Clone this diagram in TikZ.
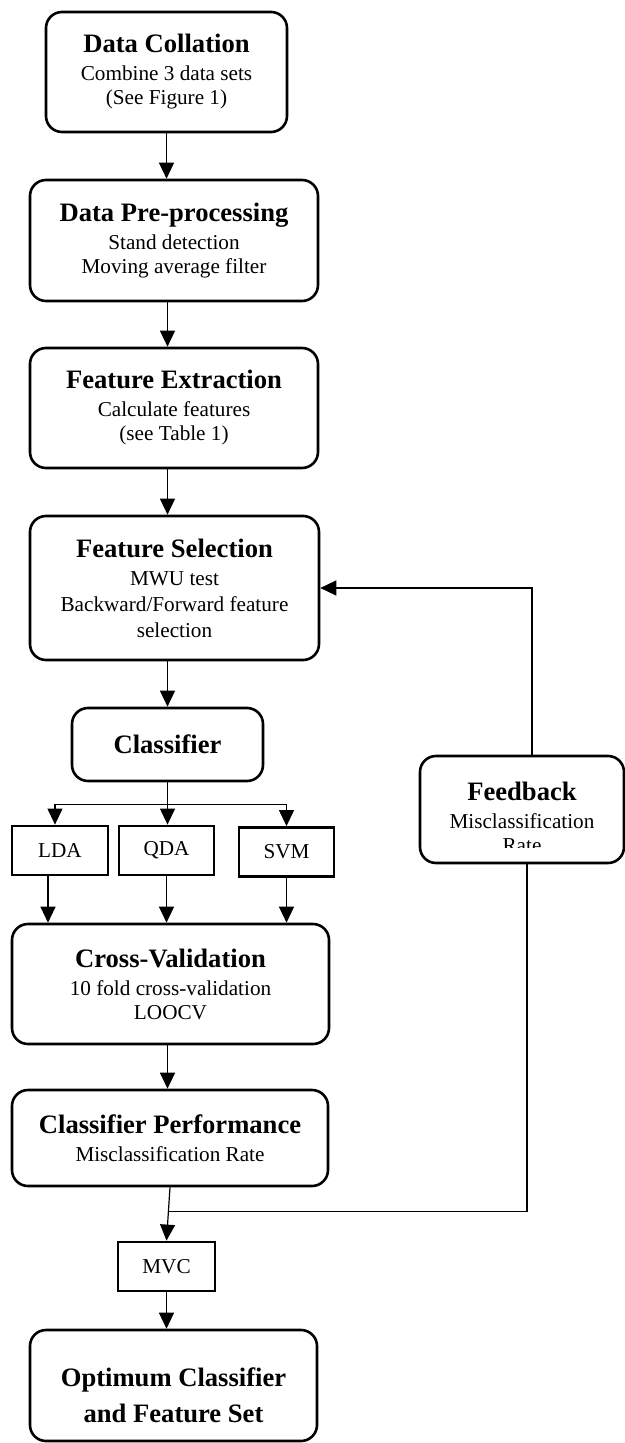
\documentclass[tikz,border=0pt]{standalone}
\usepackage{fontspec}
\setmainfont{Liberation Serif}
\usetikzlibrary{arrows.meta}
\newcommand{\boxtitle}[1]{{\fontsize{13.3}{14}\selectfont\bfseries #1}}
\begin{document}
\begin{tikzpicture}[
x=0.5pt, y=-0.5pt,
every node/.style={font=\fontsize{10.6}{12}\selectfont},
stage/.style={draw, line width=1.3pt, rounded corners=8pt, align=center},
method/.style={draw, line width=1.4pt, minimum height=24.5pt},
arr/.style={line width=0.6pt, -{Triangle[length=8pt,width=7.5pt]}},
link/.style={line width=0.6pt}
]
\useasboundingbox (0,0) rectangle (625,1443);
\node[stage, minimum width=120.5pt, minimum height=60pt] (coll) at (166.5,72)
  {\boxtitle{Data Collation}\\[2pt] Combine 3 data sets\\ (See Figure 1)};
\node[stage, minimum width=144pt, minimum height=60.5pt] (prep) at (174,240.5)
  {\boxtitle{Data Pre-processing}\\[2pt] Stand detection\\ Moving average filter};
\node[stage, minimum width=144pt, minimum height=60pt] (extr) at (174,408)
  {\boxtitle{Feature Extraction}\\[2pt] Calculate features\\ (see Table 1)};
\node[stage, minimum width=144.5pt, minimum height=72pt] (sel) at (174.5,588)
  {\boxtitle{Feature Selection}\\[2pt] MWU test\\[1pt] Backward/Forward feature\\[1pt] selection};
\node[stage, minimum width=95.5pt, minimum height=36.5pt] (clf) at (167.5,744.5)
  {\boxtitle{Classifier}};
\node[method, minimum width=48pt] (lda) at (60,850.5) {LDA};
\node[method, minimum width=47.5pt] (qda) at (166.5,850.5) {QDA};
\node[method, minimum width=47.5pt] (svm) at (286.5,852) {SVM};
\node[stage, minimum width=158.5pt, minimum height=60pt] (cv) at (170.5,984)
  {\boxtitle{Cross-Validation}\\[2pt] 10 fold cross-validation\\ LOOCV};
\node[stage, minimum width=158pt, minimum height=48pt] (perf) at (170,1138)
  {\boxtitle{Classifier Performance}\\[2pt] Misclassification Rate};
\node[method, minimum width=48.5pt] (mvc) at (166.5,1266.5) {MVC};
\node[stage, minimum width=143.5pt, minimum height=55.5pt,
  label={[align=center, yshift=-5pt]center:\boxtitle{Optimum Classifier}\\[5pt] \boxtitle{and Feature Set}}]
  (final) at (173.5,1385.5) {};
\node[stage, minimum width=102pt, minimum height=53.5pt,
  path picture={
    \clip (path picture bounding box.north west) rectangle ([yshift=8pt]path picture bounding box.south east);
    \node[align=center] at ([yshift=-4pt]path picture bounding box.center)
      {\boxtitle{Feedback}\\[2pt] Misclassification\\ Rate};
  }] (fb) at (522,809.5) {};

\draw[arr] (coll.south) -- (coll.south |- prep.north);
\draw[arr] (prep.south -| clf) -- (extr.north -| clf);
\draw[arr] (extr.south -| clf) -- (sel.north -| clf);
\draw[arr] (sel.south -| clf) -- (clf.north);
\draw[link] (clf.south) -- ++(0,22) coordinate (split);
\draw[arr] (split) -| ([xshift=-2.5pt]lda.north);
\draw[arr] (split) -- (split |- qda.north);
\draw[arr] (split) -| (svm.north);
\draw[arr] ([xshift=-6pt]lda.south) -- ([xshift=-6pt]lda.south |- cv.north);
\draw[arr] (qda.south) -- (qda.south |- cv.north);
\draw[arr] (svm.south) -- (svm.south |- cv.north);
\draw[arr] (cv.south -| clf) -- (perf.north -| clf);
\draw[arr] (perf.south) -- (mvc.north) coordinate[pos=0.46] (join);
\draw[arr] (mvc.south) -- (mvc.south |- final.north);
\draw[link] (join) -| ([xshift=2.5pt]fb.south);
\draw[arr] ([xshift=5pt]fb.north) |- (sel.east);
\end{tikzpicture}
\end{document}
